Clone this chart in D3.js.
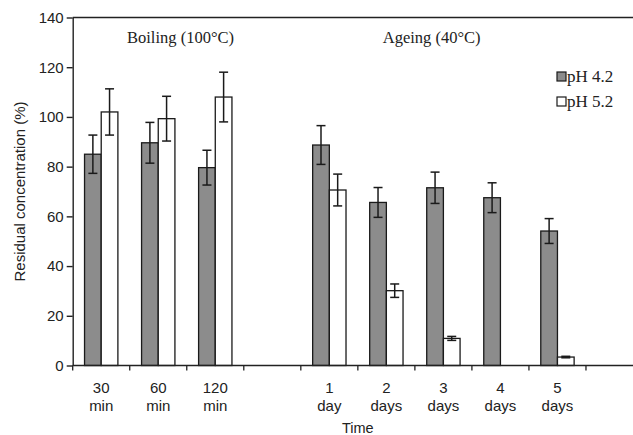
<!DOCTYPE html>
<html>
<head>
<meta charset="utf-8">
<script src="https://cdn.jsdelivr.net/npm/d3@7"></script>
<style>
  body { margin: 0; background: #fff; }
  svg { display: block; }
</style>
</head>
<body>
<script>
// categories (empty slots keep the gaps in the layout)
const categories = ["30 min", "60 min", "120 min", "gap1", "1 day", "2 days", "3 days", "4 days", "5 days", "gap2"];
const tickLines = [["30", "min"], ["60", "min"], ["120", "min"], [], ["1", "day"], ["2", "days"], ["3", "days"], ["4", "days"], ["5", "days"], []];
const seriesNames = ["pH 4.2", "pH 5.2"];
const ph42 = [85, 89.6, 79.6, null, 88.7, 65.6, 71.5, 67.5, 54.1, null];
const ph42Err = [7.7, 8.2, 7, null, 7.8, 6, 6.3, 6, 5, null];
const ph52 = [102, 99.3, 108, null, 70.6, 30.1, 10.9, null, 3.4, null];
const ph52Err = [9.3, 9, 10, null, 6.4, 2.7, 0.8, null, 0.3, null];
const yTicks = [0, 20, 40, 60, 80, 100, 120, 140];

const w = 633, h = 435;
const fills = { "pH 4.2": "#8c8c8c", "pH 5.2": "#ffffff" };

const svg = d3.select("body").append("svg")
  .attr("width", w)
  .attr("height", h);

const x = d3.scaleBand().domain(categories).range([72.7, 643]).padding(0);
const xSub = d3.scaleBand().domain(seriesNames).range([0, x.bandwidth()]).paddingInner(0).paddingOuter(0.71);
const y = d3.scaleLinear().domain([0, 140]).range([365.5, 17.5]);

const rows = [];
categories.forEach((c, i) => {
  rows.push({ cat: c, s: "pH 4.2", v: ph42[i], e: ph42Err[i] });
  rows.push({ cat: c, s: "pH 5.2", v: ph52[i], e: ph52Err[i] });
});
const bars = rows.filter(d => d.v != null);

// bars
svg.append("g").selectAll("rect")
  .data(bars)
  .enter()
    .append("rect")
    .attr("x", d => x(d.cat) + xSub(d.s))
    .attr("y", d => y(d.v))
    .attr("width", xSub.bandwidth())
    .attr("height", d => y(0) - y(d.v))
    .attr("fill", d => fills[d.s])
    .attr("stroke", "#1a1a1a")
    .attr("stroke-width", 1.3);

// error bars
const eb = svg.append("g").attr("stroke", "#1a1a1a").attr("stroke-width", 1.5);
bars.forEach(d => {
  const cx = x(d.cat) + xSub(d.s) + xSub.bandwidth() / 2;
  const cap = 4.5;
  eb.append("line").attr("x1", cx).attr("x2", cx).attr("y1", y(d.v + d.e)).attr("y2", y(d.v - d.e));
  eb.append("line").attr("x1", cx - cap).attr("x2", cx + cap).attr("y1", y(d.v + d.e)).attr("y2", y(d.v + d.e));
  eb.append("line").attr("x1", cx - cap).attr("x2", cx + cap).attr("y1", y(d.v - d.e)).attr("y2", y(d.v - d.e));
});

// y axis
const yAxis = svg.append("g")
  .attr("transform", "translate(72.7,0)")
  .call(d3.axisLeft(y).tickValues(yTicks).tickSize(6).tickPadding(3).tickSizeOuter(0));
yAxis.selectAll("text")
  .attr("font-family", "Liberation Sans, Arial, sans-serif")
  .attr("font-size", 15)
  .attr("fill", "#222");
yAxis.selectAll("line, path").attr("stroke", "#222").attr("stroke-width", 1.4);

// top frame line
svg.append("line")
  .attr("x1", 72.7).attr("x2", w)
  .attr("y1", y(140)).attr("y2", y(140))
  .attr("stroke", "#222").attr("stroke-width", 1.6);

// x axis
const xAxis = svg.append("g");
xAxis.append("line")
  .attr("x1", 72.7).attr("x2", w)
  .attr("y1", y(0)).attr("y2", y(0))
  .attr("stroke", "#222").attr("stroke-width", 1.4);
const bounds = categories.map(c => x(c)).concat([x.range()[1]]);
xAxis.selectAll(".tk")
  .data(bounds)
  .enter()
    .append("line")
    .attr("x1", d => d).attr("x2", d => d)
    .attr("y1", y(0)).attr("y2", y(0) + 5)
    .attr("stroke", "#222").attr("stroke-width", 1.3);
const labels = xAxis.selectAll(".lbl")
  .data(categories)
  .enter()
    .append("text")
    .attr("text-anchor", "middle")
    .attr("font-family", "Liberation Sans, Arial, sans-serif")
    .attr("font-size", 15)
    .attr("fill", "#222");
labels.each(function (d, i) {
  const cx = x(d) + x.bandwidth() / 2;
  tickLines[i].forEach((t, j) => {
    d3.select(this).append("tspan")
      .attr("x", cx)
      .attr("y", 392.7 + j * 18)
      .text(t);
  });
});

// axis titles
svg.append("text")
  .attr("x", (x.range()[0] + x.range()[1]) / 2)
  .attr("y", 433)
  .attr("text-anchor", "middle")
  .attr("font-family", "Liberation Sans, Arial, sans-serif")
  .attr("font-size", 14.5)
  .attr("fill", "#222")
  .text("Time");

svg.append("text")
  .attr("transform", "translate(24.5,191.5) rotate(-90)")
  .attr("text-anchor", "middle")
  .attr("font-family", "Liberation Sans, Arial, sans-serif")
  .attr("font-size", 15)
  .attr("fill", "#222")
  .text("Residual concentration (%)");

// group headings
const serif = "Liberation Serif, Times New Roman, serif";
svg.append("text")
  .attr("x", 180.5).attr("y", 43)
  .attr("text-anchor", "middle")
  .attr("font-family", serif).attr("font-size", 16.5).attr("fill", "#222")
  .text("Boiling (100°C)");
svg.append("text")
  .attr("x", 431.7).attr("y", 43)
  .attr("text-anchor", "middle")
  .attr("font-family", serif).attr("font-size", 16.5).attr("fill", "#222")
  .text("Ageing (40°C)");

// legend
const legend = svg.append("g").selectAll("g")
  .data(seriesNames)
  .enter()
    .append("g")
    .attr("transform", (d, i) => `translate(557,${72 + i * 25})`);
legend.append("rect")
  .attr("width", 9).attr("height", 9)
  .attr("fill", d => fills[d])
  .attr("stroke", "#1a1a1a").attr("stroke-width", 1.2);
legend.append("text")
  .attr("x", 10).attr("y", 10)
  .attr("font-family", serif).attr("font-size", 17).attr("fill", "#222")
  .text(d => d);
</script>
</body>
</html>
